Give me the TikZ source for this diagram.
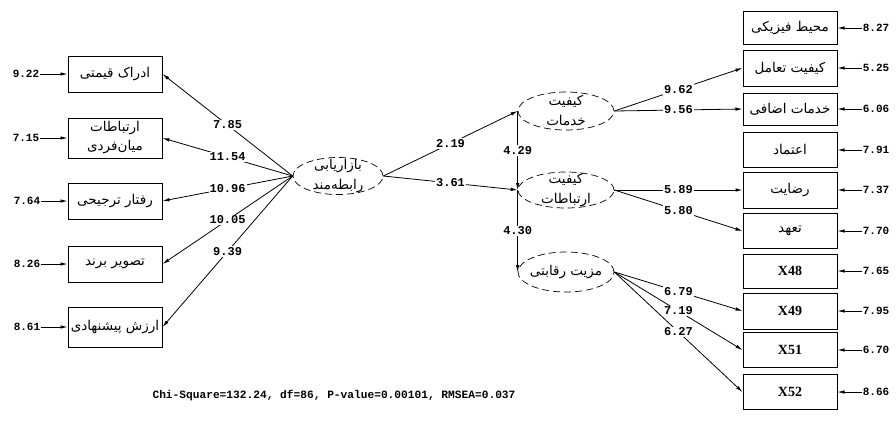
\documentclass[tikz,border=0pt]{standalone}
\usepackage{fontspec}
\setmainfont{Liberation Serif}
\setmonofont{Liberation Mono}
\newfontfamily\arabicfont[Script=Arabic]{DejaVu Sans}
\TeXXeTstate=1
\usetikzlibrary{shapes.geometric,arrows.meta}
\newcommand{\fa}[1]{{\arabicfont\beginR #1\endR}}
\begin{document}
\begin{tikzpicture}[x=1pt,y=-1pt,
  obs/.style={draw, line width=1pt, rectangle, minimum width=94pt, minimum height=36pt, inner sep=0pt, align=center, font=\fontsize{13.5}{19}\selectfont},
  lat/.style={draw, dashed, dash pattern=on 7pt off 4pt, line width=0.7pt, ellipse, minimum width=96pt, minimum height=38pt, inner sep=0pt},
  lattext/.style={inner sep=0pt, align=center, font=\fontsize{13.5}{20}\selectfont},
  arr/.style={line width=0.8pt, -{Latex[length=7pt,width=3.5pt]}},
  lbl/.style={fill=white, inner sep=1pt, font=\ttfamily\bfseries\fontsize{12}{12}\selectfont},
  errlbl/.style={inner sep=1pt, font=\ttfamily\bfseries\fontsize{11}{11}\selectfont},
  xbox/.style={obs, font=\bfseries\fontsize{14}{14}\selectfont}]
\useasboundingbox (0,0) rectangle (896,432);

% left indicators
\node[obs] (o1) at (115,74) {\fa{ادراک قیمتی}};
\node[obs, minimum height=40pt] (o2) at (115,138) {\fa{ارتباطات}\\[0pt]\fa{میان‌فردی}};
\node[obs] (o3) at (115,201) {\fa{رفتار ترجیحی}};
\node[obs] (o4) at (115,264) {\fa{تصویر برند}};
\node[obs, minimum height=40pt] (o5) at (115,327) {\fa{ارزش پیشنهادی}};

\node[errlbl] (e1) at (26,74) {9.22};
\node[errlbl] (e2) at (26,138) {7.15};
\node[errlbl] (e3) at (27,201) {7.64};
\node[errlbl] (e4) at (27,264) {8.26};
\node[errlbl] (e5) at (27,327) {8.61};
\foreach \i in {1,...,5} {\draw[arr] (e\i) -- (o\i);}

% latent variables
\node[lat, minimum width=90pt, minimum height=37pt] (rm) at (338,176) {};
\node[lattext] (rmt) at (rm) {\fa{بازاریابی}\\\fa{رابطه‌مند}};
\node[lat] (kh) at (566,111) {};
\node[lattext] (kht) at (kh) {\fa{کیفیت}\\\fa{خدمات}};
\node[lat, minimum height=36pt] (er) at (566,190) {};
\node[lattext] (ert) at (er) {\fa{کیفیت}\\\fa{ارتباطات}};
\node[lat, minimum height=40pt] (mz) at (566,272) {};
\node[lattext] (mzt) at (mz) {\fa{مزیت رقابتی}};

\draw[arr] (rm.west) -- node[lbl]{7.85} (o1.east);
\draw[arr] (rm.west) -- node[lbl]{11.54} (o2.east);
\draw[arr] (rm.west) -- node[lbl]{10.96} (o3.east);
\draw[arr] (rm.west) -- node[lbl]{10.05} (o4.east);
\draw[arr] (rm.west) -- node[lbl]{9.39} (o5.east);

\draw[arr] (rm.east) -- node[lbl]{2.19} (kh.west);
\draw[arr] (rm.east) -- node[lbl]{3.61} (er.west);
\draw[arr] (kh.west) -- node[lbl]{4.29} (er.west);
\draw[arr] (er.west) -- node[lbl]{4.30} (mz.west);

% right indicators
\node[obs, minimum height=33pt] (r1) at (790,28) {\fa{محیط فیزیکی}};
\node[obs, minimum height=36pt] (r2) at (790,68) {\fa{کیفیت تعامل}};
\node[obs, minimum height=32pt] (r3) at (790,109) {\fa{خدمات اضافی}};
\node[obs, minimum height=35pt] (r4) at (790,150) {\fa{اعتماد}};
\node[obs, minimum height=36pt] (r5) at (790,190) {\fa{رضایت}};
\node[obs, minimum height=35pt] (r6) at (790,231) {\fa{تعهد}};
\node[xbox, minimum height=34pt] (r7) at (790,271) {X48};
\node[xbox, minimum height=36pt] (r8) at (790,311) {X49};
\node[xbox, minimum height=35pt] (r9) at (790,350) {X51};
\node[xbox, minimum height=35pt] (r10) at (790,392) {X52};

\node[errlbl] (f1) at (876,28) {8.27};
\node[errlbl] (f2) at (876,68) {5.25};
\node[errlbl] (f3) at (876,109) {6.06};
\node[errlbl] (f4) at (876,150) {7.91};
\node[errlbl] (f5) at (876,190) {7.37};
\node[errlbl] (f6) at (876,231) {7.70};
\node[errlbl] (f7) at (876,271) {7.65};
\node[errlbl] (f8) at (876,311) {7.95};
\node[errlbl] (f9) at (876,350) {6.70};
\node[errlbl] (f10) at (876,392) {8.66};
\foreach \i in {1,...,10} {\draw[arr] (f\i) -- (r\i);}

\draw[arr] (kh.east) -- node[lbl]{9.62} (r2.west);
\draw[arr] (kh.east) -- node[lbl]{9.56} (r3.west);
\draw[arr] (er.east) -- node[lbl]{5.89} (r5.west);
\draw[arr] (er.east) -- node[lbl]{5.80} (r6.west);
\draw[arr] (mz.east) -- node[lbl]{6.79} (r8.west);
\draw[arr] (mz.east) -- node[lbl]{7.19} (r9.west);
\draw[arr] (mz.east) -- node[lbl]{6.27} (r10.west);

\node[font=\ttfamily\bfseries\fontsize{11.2}{11.2}\selectfont] (fit) at (334,396) {Chi-Square=132.24, df=86, P-value=0.00101, RMSEA=0.037};
\end{tikzpicture}
\end{document}
